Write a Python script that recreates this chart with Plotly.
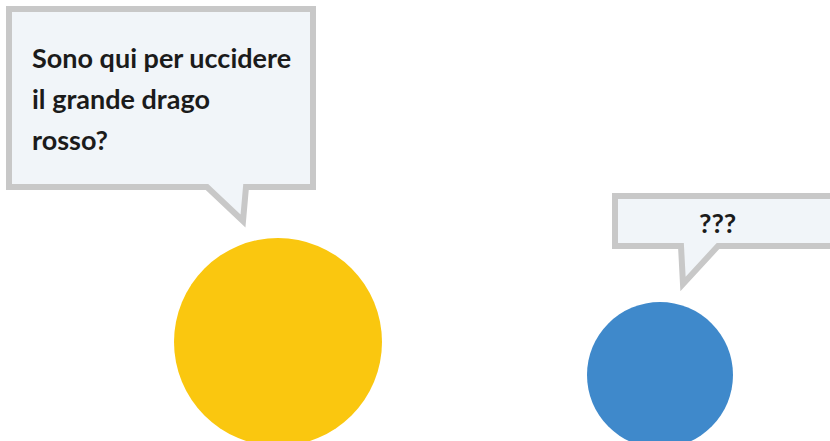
import plotly.graph_objects as go

# --- scene data ---
characters = ["hero", "stranger"]
char_x = [278, 660]
char_y = [342, 375]
char_r = [104, 73]
char_colors = ["#FAC70F", "#3F89CB"]

left_lines = ["Sono qui per uccidere", "il grande drago", "rosso?"]
right_text = "???"

BORDER = "#C8C8C8"
FILL = "#F1F5F9"
TEXT = "#1B1B1B"
FONT = "Lato, 'Noto Sans', sans-serif"

fig = go.Figure()

shapes = []
# speech bubble of the hero (outline with tail)
shapes.append(dict(
    type="path",
    path="M 9 9 L 313 9 L 313 187 L 246 187 L 243 221 L 207 187 L 9 187 Z",
    fillcolor=FILL, line=dict(color=BORDER, width=6), layer="below"))
# speech bubble of the stranger
shapes.append(dict(
    type="path",
    path="M 615 196 L 845 196 L 845 246 L 718 246 L 683 284 L 681 246 L 615 246 Z",
    fillcolor=FILL, line=dict(color=BORDER, width=6), layer="below"))

for x, y, r, c in zip(char_x, char_y, char_r, char_colors):
    shapes.append(dict(type="circle", x0=x - r, x1=x + r, y0=y - r, y1=y + r,
                       fillcolor=c, line=dict(width=0), layer="below"))

annotations = []
line_y = [57, 98, 139]
for t, y in zip(left_lines, line_y):
    annotations.append(dict(x=30, y=y, text=t, showarrow=False, xanchor="left",
                            yanchor="middle",
                            font=dict(family=FONT, size=27, color=TEXT, weight="bold")))
annotations.append(dict(x=717, y=222, text=right_text, showarrow=False,
                        xanchor="center", yanchor="middle",
                        font=dict(family=FONT, size=27, color=TEXT, weight="bold")))

fig.update_layout(
    width=830, height=441,
    margin=dict(l=0, r=0, t=0, b=0),
    paper_bgcolor="white", plot_bgcolor="white",
    xaxis=dict(range=[0, 830], visible=False, fixedrange=True),
    yaxis=dict(range=[441, 0], visible=False, fixedrange=True),
    shapes=shapes, annotations=annotations, showlegend=False,
)

fig.write_html("out.html", config={"displayModeBar": False},
               post_script="document.body.style.margin='0';document.body.style.padding='0';")
